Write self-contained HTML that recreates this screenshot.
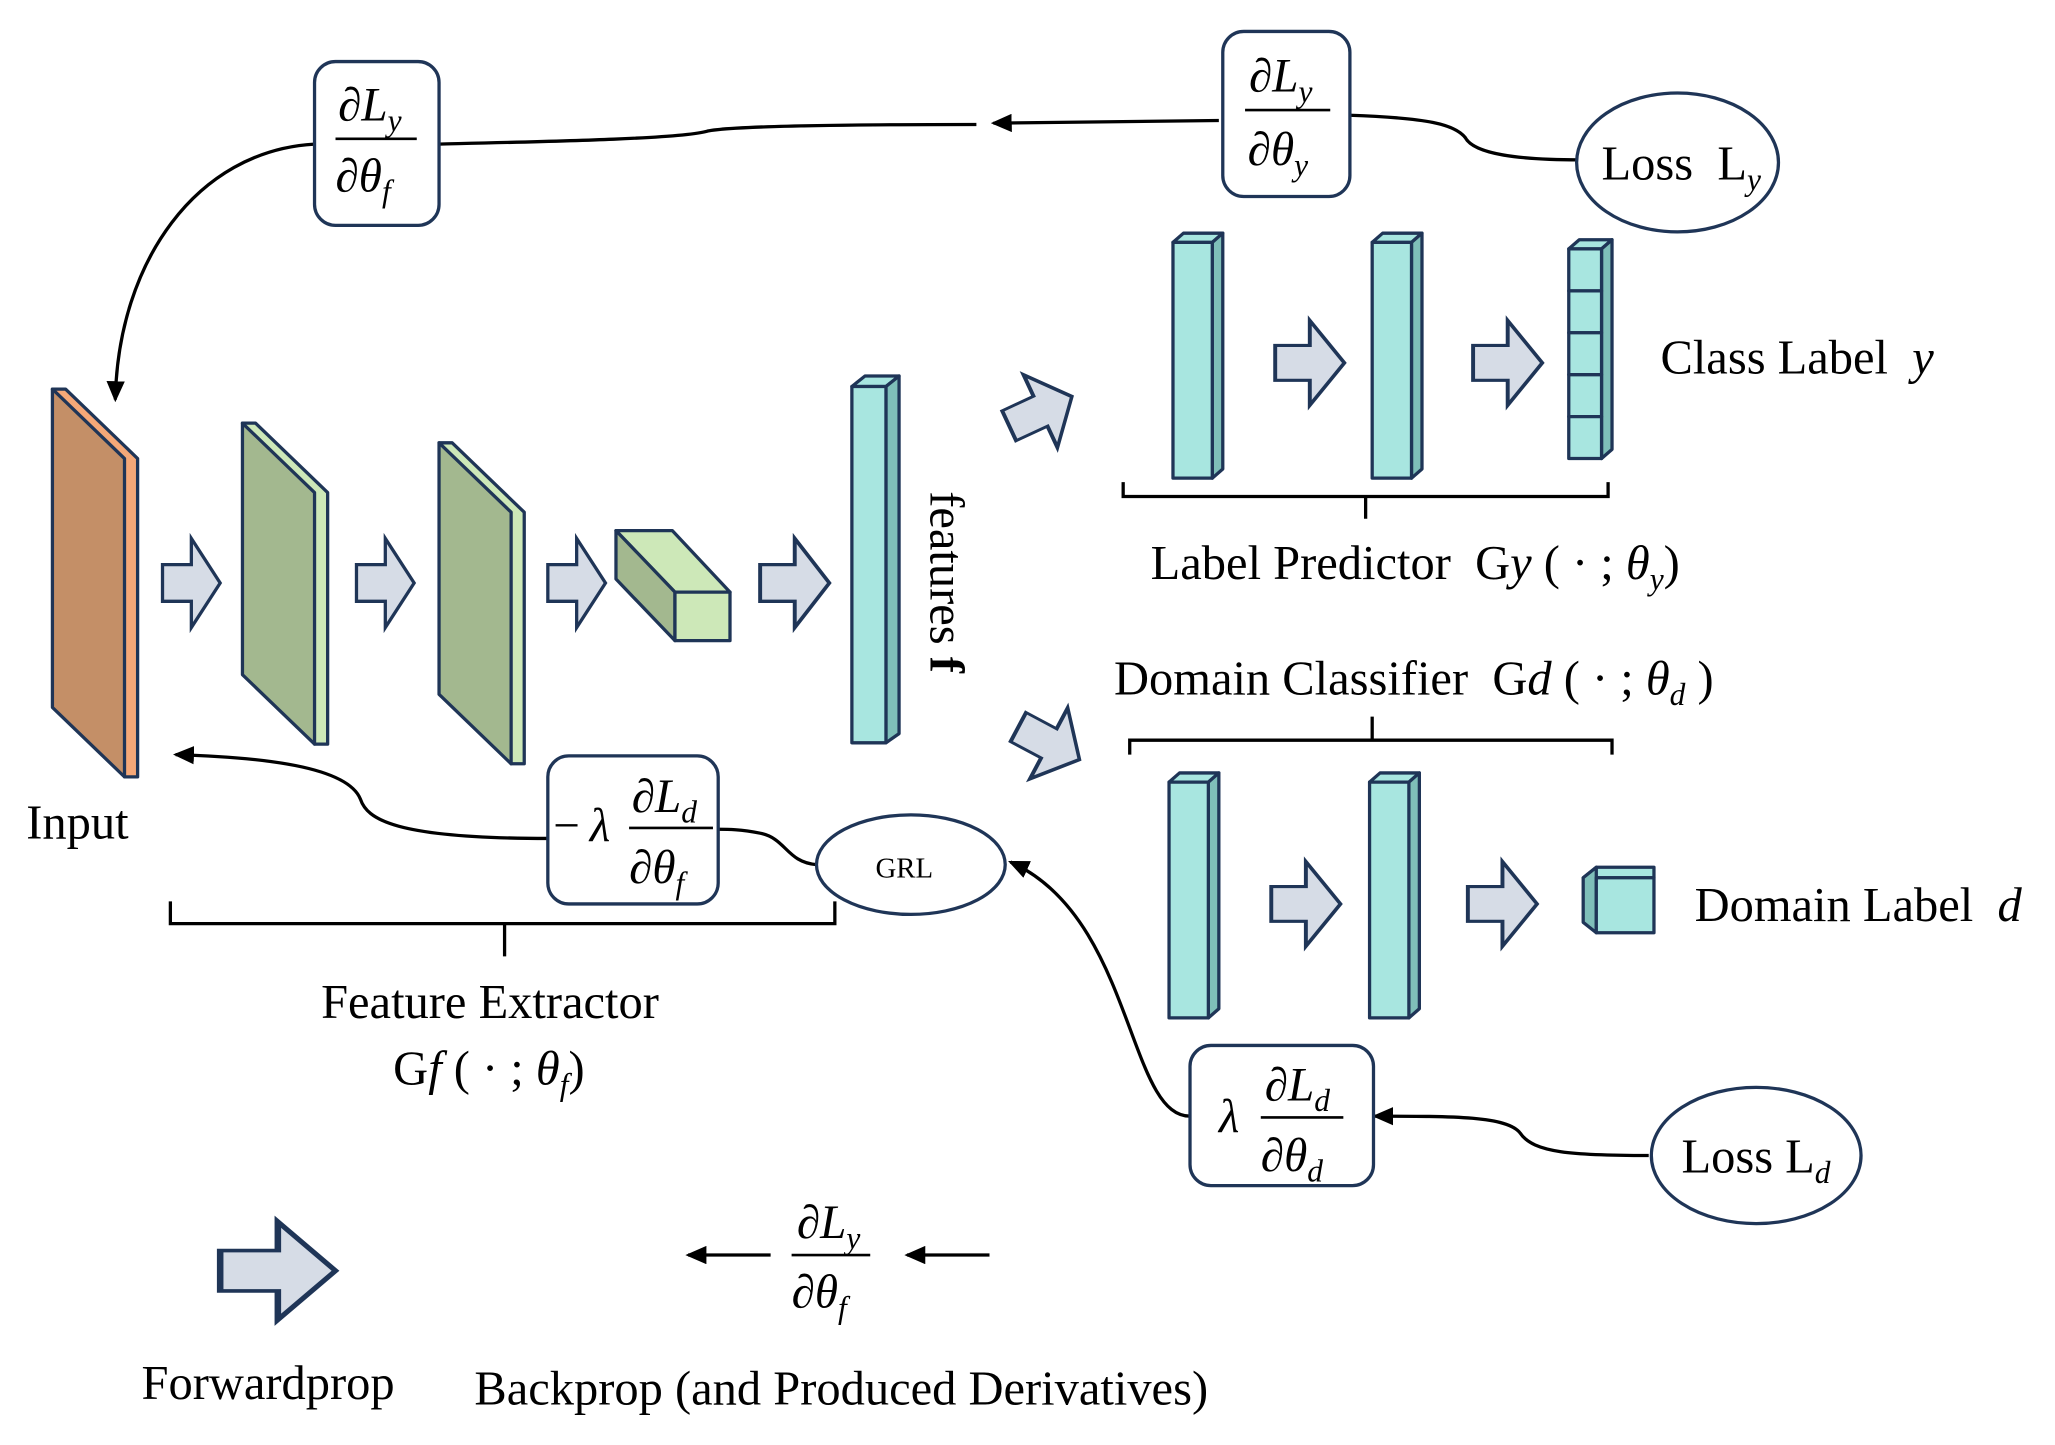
<!DOCTYPE html>
<html><head><meta charset="utf-8"><style>html,body{margin:0;padding:0;background:#fff}svg{display:block}</style></head>
<body>
<svg width="2055" height="1445" viewBox="0 0 1568 1103" preserveAspectRatio="none" xmlns="http://www.w3.org/2000/svg" font-family="Liberation Serif, serif" fill="#000">
<defs>
<marker id="ah" markerWidth="16" markerHeight="14" refX="14" refY="7" orient="auto" markerUnits="userSpaceOnUse" viewBox="0 0 16 14"><path d="M0,0 L16,7 L0,14 z" fill="#000"/></marker>
<g id="fa"><path d="M0,-14 H22 V-34 L44,0 L22,34 V14 H0 z" fill="#d6dce6" stroke="#1f3557" stroke-width="2.5" stroke-linejoin="miter"/></g>
</defs>
<g stroke="#1f3557" stroke-width="2.5" stroke-linejoin="round">
<polygon points="40,297 50,297 105,350 105,593 95,593" fill="#f5a878"/>
<polygon points="40,297 95,350 95,593 40,540" fill="#c48f67"/>
<polygon points="185,323 195,323 250,376 250,568 240,568" fill="#cde8b8"/>
<polygon points="185,323 240,376 240,568 185,515" fill="#a3b88f"/>
<polygon points="335,338 345,338 400,391 400,583 390,583" fill="#cde8b8"/>
<polygon points="335,338 390,391 390,583 335,530" fill="#a3b88f"/>
<polygon points="470,405 513,405 557,452 515,452" fill="#cde8b8"/>
<polygon points="470,405 515,452 515,489 470,442" fill="#a3b88f"/>
<rect x="515" y="452" width="42" height="37" fill="#cde8b8"/>
<polygon points="650,295 660,287 686,287 676,295" fill="#a8e6e0"/>
<polygon points="676,295 686,287 686,560 676,567" fill="#7fbfb9"/>
<rect x="650" y="295" width="26" height="272" fill="#a8e6e0"/>
<polygon points="895,185 903,178 933,178 925,185" fill="#a8e6e0"/>
<polygon points="925,185 933,178 933,358 925,365" fill="#7fbfb9"/>
<rect x="895" y="185" width="30" height="180" fill="#a8e6e0"/>
<polygon points="1047,185 1055,178 1085,178 1077,185" fill="#a8e6e0"/>
<polygon points="1077,185 1085,178 1085,358 1077,365" fill="#7fbfb9"/>
<rect x="1047" y="185" width="30" height="180" fill="#a8e6e0"/>
<polygon points="1197,190 1205,183 1230,183 1222,190" fill="#a8e6e0"/>
<polygon points="1222,190 1230,183 1230,343 1222,350" fill="#7fbfb9"/>
<rect x="1197" y="190" width="25" height="32" fill="#a8e6e0"/>
<rect x="1197" y="222" width="25" height="32" fill="#a8e6e0"/>
<rect x="1197" y="254" width="25" height="32" fill="#a8e6e0"/>
<rect x="1197" y="286" width="25" height="32" fill="#a8e6e0"/>
<rect x="1197" y="318" width="25" height="32" fill="#a8e6e0"/>
<polygon points="892,597 900,590 930,590 922,597" fill="#a8e6e0"/>
<polygon points="922,597 930,590 930,770 922,777" fill="#7fbfb9"/>
<rect x="892" y="597" width="30" height="180" fill="#a8e6e0"/>
<polygon points="1045,597 1053,590 1083,590 1075,597" fill="#a8e6e0"/>
<polygon points="1075,597 1083,590 1083,770 1075,777" fill="#7fbfb9"/>
<rect x="1045" y="597" width="30" height="180" fill="#a8e6e0"/>
<polygon points="1208,670 1218,662 1262,662 1262,670" fill="#a8e6e0"/>
<polygon points="1208,670 1218,662 1218,712 1208,704" fill="#7fbfb9"/>
<rect x="1218" y="670" width="44" height="42" fill="#a8e6e0"/>
</g>
<use href="#fa" transform="translate(124,445)"/>
<use href="#fa" transform="translate(272,445)"/>
<use href="#fa" transform="translate(418,445)"/>
<use href="#fa" transform="translate(580,445) scale(1.2,1)"/>
<use href="#fa" transform="translate(770,325) rotate(-25) scale(1.2,0.9)"/>
<use href="#fa" transform="translate(777,555) rotate(28) scale(1.2,0.9)"/>
<use href="#fa" transform="translate(973,277) scale(1.2,0.95)"/>
<use href="#fa" transform="translate(1124,277) scale(1.2,0.95)"/>
<use href="#fa" transform="translate(970,690) scale(1.2,0.95)"/>
<use href="#fa" transform="translate(1120,690) scale(1.2,0.95)"/>
<use href="#fa" transform="translate(168,970) scale(2,1.1)"/>
<g stroke="#000" stroke-width="2.5" fill="none">
<path d="M857,368 V379 H1227 V368 M1042,379 V396"/>
<path d="M862,576 V565 H1230 V576 M1047,565 V547"/>
<path d="M130,688 V705 H637 V688 M385,705 V730"/>
</g>
<g stroke="#000" stroke-width="2.5" fill="none">
<path d="M335,110 C420,108 520,106 540,100 C560,96 650,95 745,95"/>
<path d="M930,92 L758,94" marker-end="url(#ah)"/>
<path d="M1030,88 C1090,90 1110,95 1118,105 C1125,118 1160,122 1205,122"/>
<path d="M240,110 C150,115 90,200 88,305" marker-end="url(#ah)"/>
<path d="M623,660 C600,658 600,640 580,636 C565,633 555,633 548,633"/>
<path d="M418,640 C300,640 280,625 275,610 C265,585 200,578 134,576" marker-end="url(#ah)"/>
<path d="M908,852 C860,852 865,700 771,658" marker-end="url(#ah)"/>
<path d="M1258,882 C1200,882 1170,880 1160,865 C1150,852 1110,852 1049,852" marker-end="url(#ah)"/>
<path d="M755,958 L692,958" marker-end="url(#ah)"/>
<path d="M588,958 L525,958" marker-end="url(#ah)"/>
</g>
<g stroke="#1f3557" stroke-width="2.5" fill="#fff">
<rect x="240" y="47" width="95" height="125" rx="16"/>
<rect x="933" y="24" width="97" height="126" rx="16"/>
<rect x="418" y="577" width="130" height="113" rx="16"/>
<rect x="908" y="798" width="140" height="107" rx="16"/>
<ellipse cx="1280" cy="124" rx="77" ry="53"/>
<ellipse cx="695" cy="660" rx="72" ry="38"/>
<ellipse cx="1340" cy="882" rx="80" ry="52"/>
</g>
<g font-size="36" font-style="italic" stroke="none">
<text x="258" y="92">∂L<tspan font-size="24" dy="8">y</tspan></text>
<line x1="256" y1="106" x2="318" y2="106" stroke="#000" stroke-width="2"/>
<text x="256" y="146">∂θ<tspan font-size="24" dy="8">f</tspan></text>
<text x="953" y="70">∂L<tspan font-size="24" dy="8">y</tspan></text>
<line x1="950" y1="84" x2="1015" y2="84" stroke="#000" stroke-width="2"/>
<text x="952" y="126">∂θ<tspan font-size="24" dy="8">y</tspan></text>
<text x="422" y="642" font-style="normal">−</text><text x="450" y="642">λ</text>
<text x="482" y="620">∂L<tspan font-size="24" dy="8">d</tspan></text>
<line x1="480" y1="632" x2="544" y2="632" stroke="#000" stroke-width="2"/>
<text x="480" y="674">∂θ<tspan font-size="24" dy="8">f</tspan></text>
<text x="930" y="864">λ</text>
<text x="965" y="840">∂L<tspan font-size="24" dy="8">d</tspan></text>
<line x1="962" y1="853" x2="1025" y2="853" stroke="#000" stroke-width="2"/>
<text x="962" y="894">∂θ<tspan font-size="24" dy="8">d</tspan></text>
<text x="608" y="945">∂L<tspan font-size="24" dy="8">y</tspan></text>
<line x1="604" y1="958" x2="664" y2="958" stroke="#000" stroke-width="2"/>
<text x="604" y="998">∂θ<tspan font-size="24" dy="8">f</tspan></text>
</g>
<g font-size="37" stroke="none">
<text x="1222" y="137">Loss&#160;&#160;L<tspan font-size="24" font-style="italic" dy="8">y</tspan></text>
<text x="1283" y="895">Loss&#160;L<tspan font-size="24" font-style="italic" dy="8">d</tspan></text>
<text x="668" y="670" font-size="22">GRL</text>
<text x="1267" y="285">Class Label&#160;&#160;<tspan font-style="italic">y</tspan></text>
<text x="878" y="442">Label Predictor&#160;&#160;G<tspan font-style="italic">y</tspan> (&#160;·&#160;;&#160;<tspan font-style="italic">θ</tspan><tspan font-size="24" font-style="italic" dy="8">y</tspan><tspan dy="-8">)</tspan></text>
<text x="850" y="530">Domain Classifier&#160;&#160;G<tspan font-style="italic">d</tspan> (&#160;·&#160;;&#160;<tspan font-style="italic">θ</tspan><tspan font-size="24" font-style="italic" dy="8">d</tspan><tspan dy="-8">&#160;)</tspan></text>
<text x="1293" y="703">Domain Label&#160;&#160;<tspan font-style="italic">d</tspan></text>
<text x="20" y="640">Input</text>
<text x="245" y="777">Feature Extractor</text>
<text x="300" y="828">G<tspan font-style="italic">f</tspan> (&#160;·&#160;;&#160;<tspan font-style="italic">θ</tspan><tspan font-size="24" font-style="italic" dy="8">f</tspan><tspan dy="-8">)</tspan></text>
<text x="108" y="1068">Forwardprop</text>
<text x="362" y="1072">Backprop (and Produced Derivatives)</text>
<text transform="translate(710,375) rotate(90)">features <tspan font-weight="bold">f</tspan></text>
</g>
</svg>
</body></html>
